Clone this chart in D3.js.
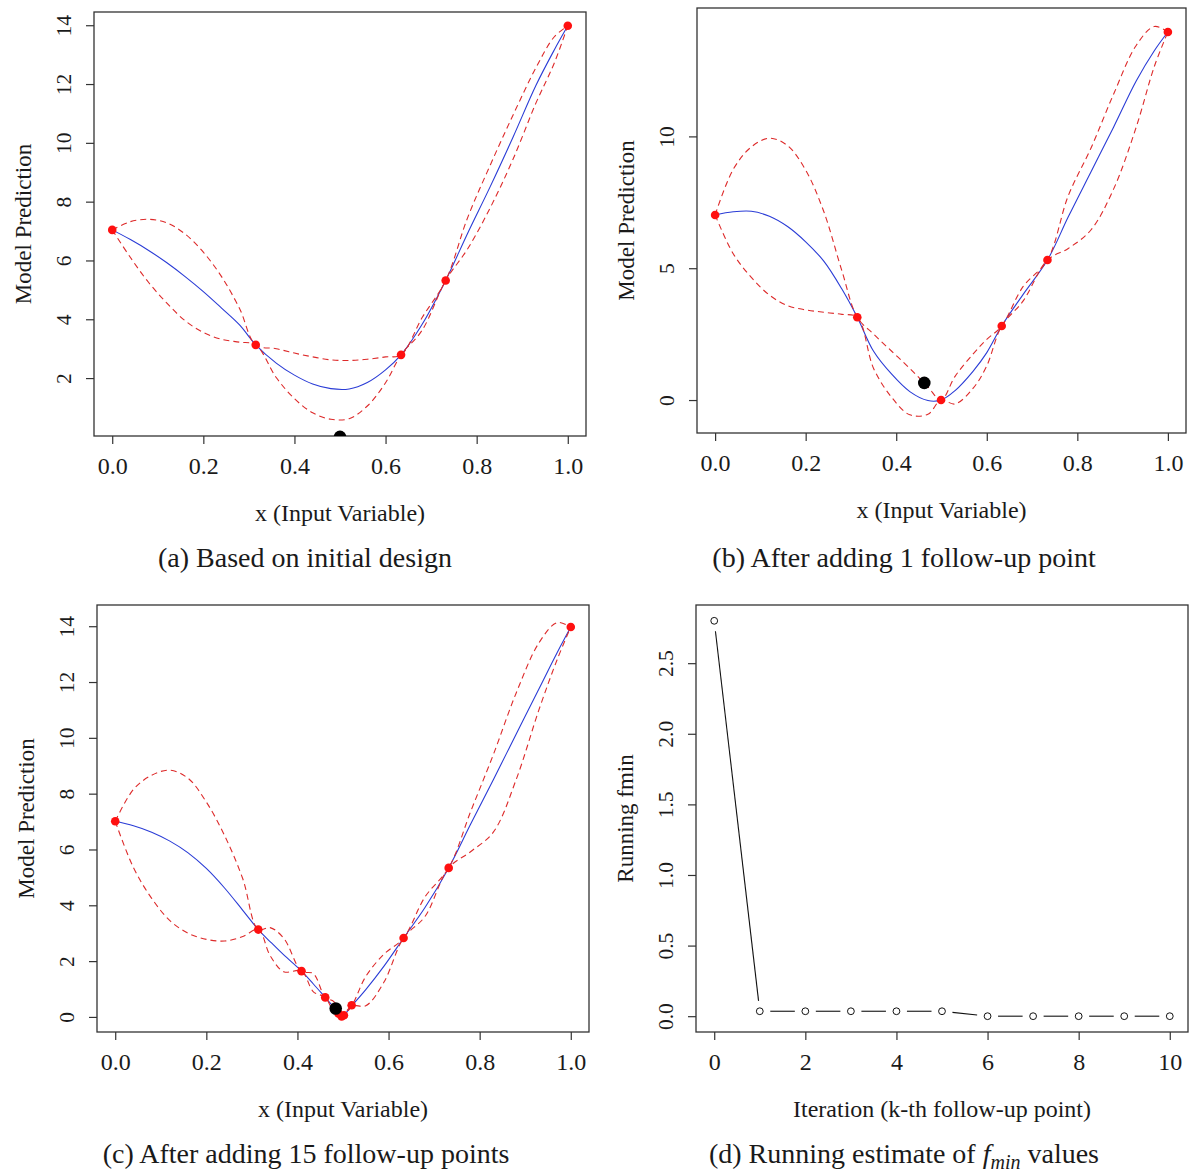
<!DOCTYPE html>
<html>
<head>
<meta charset="utf-8">
<script src="https://cdn.jsdelivr.net/npm/d3@7"></script>
<style>
body { margin: 0; padding: 0; background: #fff; }
svg text { font-family: "Liberation Serif", "Times New Roman", serif; fill: #1a1a1a; }
.frame { fill: none; stroke: #333; stroke-width: 1.3px; }
.tick line { stroke: #333; stroke-width: 1.2px; }
.mean { fill: none; stroke: #2a3cd6; stroke-width: 1.1px; }
.band { fill: none; stroke: #dd2a2a; stroke-width: 1.1px; stroke-dasharray: 6,4; }
</style>
</head>
<body>
<svg></svg>
<script>
// (a) initial design
var xGridA = [0, 0.04, 0.08, 0.12, 0.16, 0.20, 0.24, 0.28, 0.315, 0.36, 0.40, 0.44, 0.48, 0.52, 0.56, 0.60, 0.634, 0.68, 0.732, 0.78, 0.83, 0.88, 0.93, 0.97, 1.0];
var meanA  = [7.04, 6.71, 6.34, 5.92, 5.45, 4.94, 4.38, 3.80, 3.13, 2.51, 2.10, 1.80, 1.64, 1.63, 1.85, 2.28, 2.79, 3.82, 5.32, 6.92, 8.52, 10.2, 11.95, 13.15, 13.98];
var upperA = [7.04, 7.32, 7.40, 7.28, 6.90, 6.28, 5.45, 4.35, 3.13, 3.00, 2.85, 2.72, 2.62, 2.60, 2.64, 2.72, 2.79, 4.05, 5.32, 7.45, 9.25, 10.95, 12.55, 13.6, 13.98];
var lowerA = [7.04, 6.10, 5.25, 4.55, 3.95, 3.55, 3.32, 3.22, 3.13, 2.02, 1.30, 0.82, 0.60, 0.62, 1.05, 1.84, 2.79, 3.62, 5.32, 6.39, 7.80, 9.45, 11.35, 12.70, 13.98];
var designXA = [0, 0.315, 0.634, 0.732, 1.0];
var designYA = [7.04, 3.13, 2.79, 5.32, 13.98];
var nextPtA = [0.5, 0.0];

// (b) one follow-up point
var xGridB = [0, 0.04, 0.08, 0.12, 0.16, 0.20, 0.24, 0.28, 0.314, 0.35, 0.39, 0.43, 0.47, 0.499, 0.53, 0.57, 0.60, 0.633, 0.68, 0.734, 0.78, 0.83, 0.88, 0.93, 0.97, 1.0];
var meanB  = [7.02, 7.14, 7.16, 6.97, 6.58, 6.00, 5.27, 4.21, 3.14, 1.85, 0.98, 0.32, -0.02, 0.0, 0.36, 1.10, 1.80, 2.81, 4.00, 5.31, 6.95, 8.65, 10.35, 12.1, 13.25, 13.96];
var upperB = [7.02, 8.75, 9.60, 9.93, 9.65, 8.72, 7.15, 4.90, 3.14, 2.50, 1.85, 1.20, 0.50, 0.0, 0.90, 1.75, 2.30, 2.81, 4.30, 5.31, 7.75, 9.55, 11.6, 13.45, 14.17, 13.96];
var lowerB = [7.02, 5.55, 4.65, 3.98, 3.58, 3.42, 3.33, 3.25, 3.14, 1.20, 0.10, -0.56, -0.54, 0.0, -0.15, 0.45, 1.30, 2.81, 3.75, 5.31, 5.75, 6.45, 8.00, 10.35, 12.65, 13.96];
var designXB = [0, 0.314, 0.499, 0.633, 0.734, 1.0];
var designYB = [7.02, 3.14, 0.0, 2.81, 5.31, 13.96];
var nextPtB = [0.462, 0.65];

// (c) fifteen follow-up points
var xGridC = [0, 0.04, 0.08, 0.12, 0.16, 0.20, 0.24, 0.28, 0.314, 0.34, 0.37, 0.409, 0.435, 0.461, 0.48, 0.497, 0.519, 0.55, 0.59, 0.633, 0.68, 0.732, 0.78, 0.83, 0.88, 0.93, 0.97, 1.0];
var meanC  = [7.01, 6.85, 6.62, 6.30, 5.88, 5.32, 4.62, 3.82, 3.13, 2.70, 2.22, 1.64, 1.18, 0.70, 0.35, 0.02, 0.40, 0.98, 1.82, 2.83, 3.92, 5.34, 6.90, 8.50, 10.13, 11.75, 13.05, 13.97];
var upperC = [7.01, 8.15, 8.66, 8.84, 8.55, 7.70, 6.50, 4.95, 3.13, 3.20, 2.82, 1.64, 1.55, 0.70, 0.55, 0.02, 0.40, 1.45, 2.25, 2.83, 4.30, 5.34, 7.35, 9.40, 11.6, 13.4, 14.13, 13.97];
var lowerC = [7.01, 5.35, 4.25, 3.45, 3.00, 2.78, 2.72, 2.88, 3.13, 2.20, 1.62, 1.64, 0.90, 0.70, 0.18, 0.02, 0.40, 0.40, 1.25, 2.83, 3.60, 5.34, 5.92, 6.62, 8.50, 11.0, 12.8, 13.97];
var designXC = [0, 0.314, 0.409, 0.461, 0.49, 0.497, 0.502, 0.519, 0.633, 0.732, 1.0];
var designYC = [7.01, 3.13, 1.64, 0.70, 0.12, 0.02, 0.06, 0.42, 2.83, 5.34, 13.97];
var nextPtC = [0.484, 0.30];

// (d) running fmin
var iterD = [0, 1, 2, 3, 4, 5, 6, 7, 8, 9, 10];
var fminD = [2.80, 0.035, 0.035, 0.035, 0.035, 0.035, 0.0, 0.0, 0.0, 0.0, 0.0];

var xTicksModel = [0, 0.2, 0.4, 0.6, 0.8, 1.0];
var xTicksIter = [0, 2, 4, 6, 8, 10];

var svg = d3.select('svg').attr('width', 1194).attr('height', 1174);

function makePanel(p) {
  var x = d3.scaleLinear().domain(p.xDomain).range([p.left, p.right]);
  var y = d3.scaleLinear().domain(p.yDomain).range([p.bottom, p.top]);
  var g = svg.append('g');

  g.append('clipPath').attr('id', 'clip-' + p.id)
    .append('rect')
    .attr('x', p.left).attr('y', p.top)
    .attr('width', p.right - p.left).attr('height', p.bottom - p.top);

  var xAxis = g.append('g')
    .attr('transform', 'translate(0,' + p.bottom + ')')
    .call(d3.axisBottom(x).tickValues(p.xTicks).tickSize(8).tickFormat(p.xFmt));
  xAxis.select('.domain').remove();
  xAxis.selectAll('text')
    .attr('y', 38).attr('dy', null)
    .style('font-size', '24px');

  var yAxis = g.append('g')
    .attr('transform', 'translate(' + p.left + ',0)')
    .call(d3.axisLeft(y).tickValues(p.yTicks).tickSize(8).tickFormat(p.yFmt));
  yAxis.select('.domain').remove();
  yAxis.selectAll('text')
    .attr('x', 0).attr('y', 0).attr('dy', null)
    .attr('text-anchor', 'middle')
    .attr('transform', 'translate(-23,0) rotate(-90)')
    .style('font-size', '21.5px');

  g.append('rect').attr('class', 'frame')
    .attr('x', p.left).attr('y', p.top)
    .attr('width', p.right - p.left).attr('height', p.bottom - p.top);

  g.append('text')
    .attr('x', (p.left + p.right) / 2).attr('y', p.bottom + 85)
    .attr('text-anchor', 'middle').style('font-size', '24px')
    .text(p.xTitle);

  g.append('text')
    .attr('transform', 'translate(' + (p.left - 63) + ',' + (p.top + p.bottom) / 2 + ') rotate(-90)')
    .attr('text-anchor', 'middle').style('font-size', '23px')
    .text(p.yTitle);

  var plot = g.append('g').attr('clip-path', 'url(#clip-' + p.id + ')');
  return { g: g, plot: plot, x: x, y: y };
}

function caption(cx, cy, label) {
  return svg.append('text')
    .attr('x', cx).attr('y', cy)
    .attr('text-anchor', 'middle')
    .style('font-size', '28px')
    .text(label);
}

function modelPanel(p, xs, mean, upper, lower, dx, dy, next) {
  var pan = makePanel(p);
  var line = d3.line()
    .x(function(d) { return pan.x(d[0]); })
    .y(function(d) { return pan.y(d[1]); })
    .curve(d3.curveCatmullRom.alpha(0.5));

  pan.plot.append('path').attr('class', 'mean').attr('d', line(d3.zip(xs, mean)));
  pan.plot.append('path').attr('class', 'band').attr('d', line(d3.zip(xs, upper)));
  pan.plot.append('path').attr('class', 'band').attr('d', line(d3.zip(xs, lower)));

  pan.plot.selectAll('circle.design')
    .data(d3.zip(dx, dy))
    .enter().append('circle')
    .attr('class', 'design')
    .attr('cx', function(d) { return pan.x(d[0]); })
    .attr('cy', function(d) { return pan.y(d[1]); })
    .attr('r', 4.3)
    .attr('fill', '#ff1010');

  pan.plot.append('circle')
    .attr('cx', pan.x(next[0]))
    .attr('cy', pan.y(next[1]))
    .attr('r', 6.3)
    .attr('fill', '#000');
  return pan;
}

var intFmt = d3.format('d');
var oneFmt = d3.format('.1f');

modelPanel({
  id: 'a', left: 94, right: 586, top: 12, bottom: 436,
  xDomain: [-0.04, 1.04], yDomain: [0.03, 14.45],
  xTicks: xTicksModel, yTicks: [2, 4, 6, 8, 10, 12, 14],
  xFmt: oneFmt, yFmt: intFmt,
  xTitle: 'x (Input Variable)', yTitle: 'Model Prediction'
}, xGridA, meanA, upperA, lowerA, designXA, designYA, nextPtA);
caption(305, 567, '(a) Based on initial design');

modelPanel({
  id: 'b', left: 697, right: 1186, top: 8, bottom: 433,
  xDomain: [-0.04, 1.04], yDomain: [-1.25, 14.87],
  xTicks: xTicksModel, yTicks: [0, 5, 10],
  xFmt: oneFmt, yFmt: intFmt,
  xTitle: 'x (Input Variable)', yTitle: 'Model Prediction'
}, xGridB, meanB, upperB, lowerB, designXB, designYB, nextPtB);
caption(904, 567, '(b) After adding 1 follow-up point');

modelPanel({
  id: 'c', left: 97, right: 589, top: 605, bottom: 1032,
  xDomain: [-0.04, 1.04], yDomain: [-0.54, 14.76],
  xTicks: xTicksModel, yTicks: [0, 2, 4, 6, 8, 10, 12, 14],
  xFmt: oneFmt, yFmt: intFmt,
  xTitle: 'x (Input Variable)', yTitle: 'Model Prediction'
}, xGridC, meanC, upperC, lowerC, designXC, designYC, nextPtC);
caption(306, 1163, '(c) After adding 15 follow-up points');

// (d) type="b": points joined by segments that stop short of each point
var panD = makePanel({
  id: 'd', left: 696, right: 1188, top: 605, bottom: 1032,
  xDomain: [-0.4, 10.4], yDomain: [-0.112, 2.912],
  xTicks: xTicksIter, yTicks: [0, 0.5, 1.0, 1.5, 2.0, 2.5],
  xFmt: intFmt, yFmt: oneFmt,
  xTitle: 'Iteration (k-th follow-up point)', yTitle: 'Running fmin'
});

var ptsD = d3.zip(iterD, fminD).map(function(d) { return [panD.x(d[0]), panD.y(d[1])]; });
var gap = 10.5;
var segs = d3.pairs(ptsD).map(function(pr) {
  var dxs = pr[1][0] - pr[0][0], dys = pr[1][1] - pr[0][1];
  var len = Math.sqrt(dxs * dxs + dys * dys);
  if (len <= 2 * gap) return null;
  var ux = dxs / len, uy = dys / len;
  return [pr[0][0] + ux * gap, pr[0][1] + uy * gap, pr[1][0] - ux * gap, pr[1][1] - uy * gap];
}).filter(function(s) { return s; });

panD.plot.selectAll('line.seg')
  .data(segs)
  .enter().append('line')
  .attr('class', 'seg')
  .attr('x1', function(s) { return s[0]; })
  .attr('y1', function(s) { return s[1]; })
  .attr('x2', function(s) { return s[2]; })
  .attr('y2', function(s) { return s[3]; })
  .attr('stroke', '#111')
  .attr('stroke-width', 1.1);

panD.plot.selectAll('circle.pt')
  .data(ptsD)
  .enter().append('circle')
  .attr('class', 'pt')
  .attr('cx', function(d) { return d[0]; })
  .attr('cy', function(d) { return d[1]; })
  .attr('r', 3.4)
  .attr('fill', '#fff')
  .attr('stroke', '#111')
  .attr('stroke-width', 1);

var capD = caption(904, 1163, '(d) Running estimate of ');
capD.append('tspan').style('font-style', 'italic').text('f');
capD.append('tspan').style('font-style', 'italic').style('font-size', '20px').attr('dy', 6).text('min');
capD.append('tspan').attr('dy', -6).text(' values');
</script>
</body>
</html>
